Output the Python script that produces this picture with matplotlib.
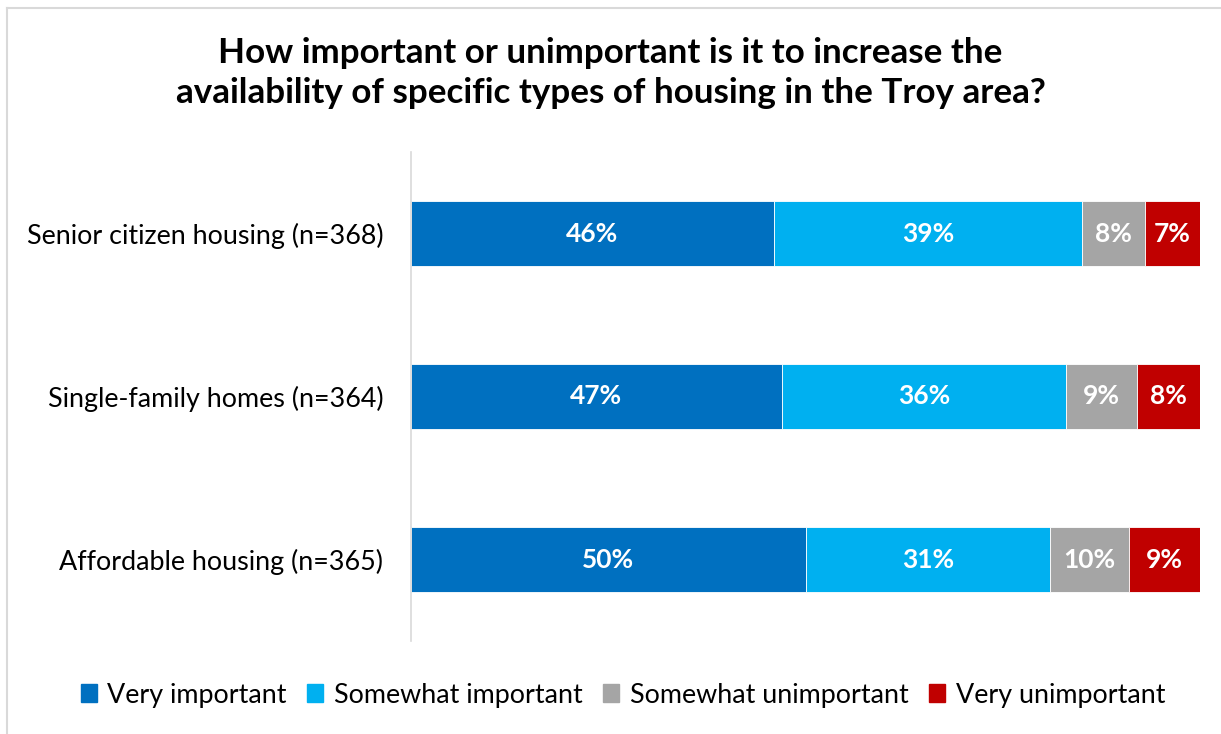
import matplotlib
matplotlib.use("Agg")
import matplotlib.pyplot as plt
from matplotlib.lines import Line2D

plt.rcParams['font.family'] = ['Lato', 'DejaVu Sans']

categories = ["Senior citizen housing (n=368)",
              "Single-family homes (n=364)",
              "Affordable housing (n=365)"]
very_important = [46, 47, 50]
somewhat_important = [39, 36, 31]
somewhat_unimportant = [8, 9, 10]
very_unimportant = [7, 8, 9]

series_names = ["Very important", "Somewhat important",
                "Somewhat unimportant", "Very unimportant"]
colors = ["#0070C0", "#00B0F0", "#A5A5A5", "#C00000"]

fig = plt.figure(figsize=(12.21, 7.34), dpi=100)
ax = fig.add_axes([411 / 1221, 1 - 641 / 734, 789 / 1221, 489 / 734])

ypos = list(range(len(categories)))
left = [0] * len(categories)
for vals, name, col in zip([very_important, somewhat_important,
                            somewhat_unimportant, very_unimportant],
                           series_names, colors):
    bars = ax.barh(ypos, vals, left=left, height=0.4, color=col,
                   edgecolor="white", linewidth=0.6, label=name)
    for b, v in zip(bars, vals):
        ax.text(b.get_x() + b.get_width() / 2, b.get_y() + b.get_height() / 2,
                f"{v}%", ha="center", va="center", color="white",
                fontsize=19, fontweight="bold")
    left = [l + v for l, v in zip(left, vals)]

ax.set_xlim(0, 100)
ax.set_ylim(len(categories) - 0.5, -0.5)
ax.set_yticks(ypos)
ax.set_yticklabels(categories, fontsize=19.4)
ax.tick_params(axis="y", length=0, pad=20)
ax.set_xticks([])
for s in ["top", "right", "bottom"]:
    ax.spines[s].set_visible(False)
ax.spines["left"].set_color("#D9D9D9")
ax.spines["left"].set_linewidth(1.2)

fig.text(0.5, 1 - 73 / 734,
         "How important or unimportant is it to increase the\n"
         "availability of specific types of housing in the Troy area?",
         ha="center", va="center", fontsize=25.2, fontweight="bold",
         linespacing=1.3)

handles = [plt.Rectangle((0, 0), 1, 1, color=c) for c in colors]
fig.legend(handles, series_names, loc="center",
           bbox_to_anchor=(623 / 1221, 1 - 695 / 734), ncol=4, frameon=False,
           fontsize=19.4, handlelength=0.6, handleheight=0.6,
           handletextpad=0.4, columnspacing=0.75)

# light frame on the top and left edges
fig.add_artist(Line2D([7 / 1221, 1], [1 - 8 / 734, 1 - 8 / 734],
                      color="#D9D9D9", lw=1.5))
fig.add_artist(Line2D([7 / 1221, 7 / 1221], [0, 1 - 8 / 734],
                      color="#D9D9D9", lw=1.5))

fig.savefig("out.png", dpi=100)
